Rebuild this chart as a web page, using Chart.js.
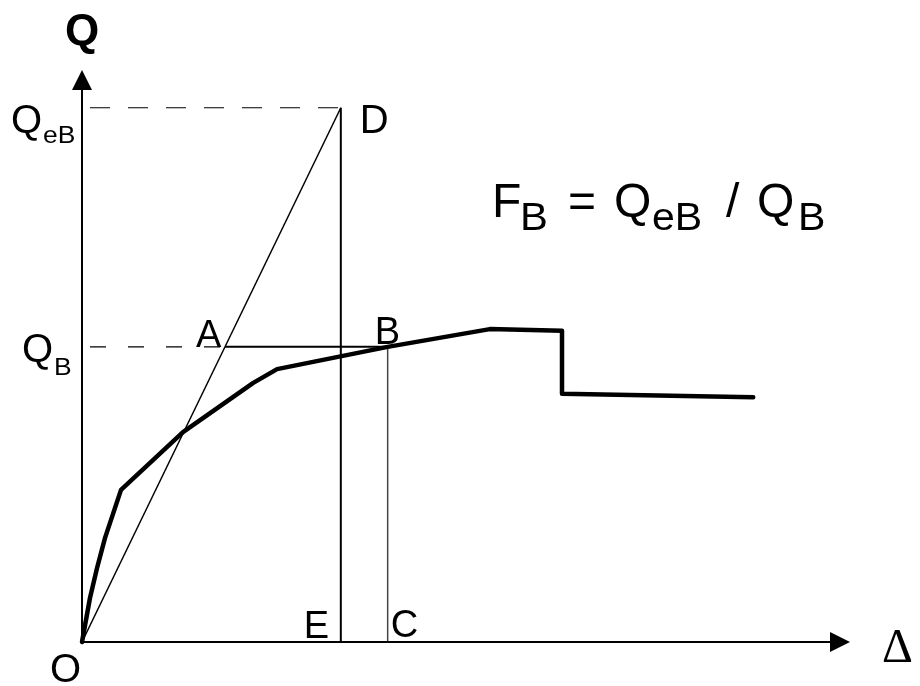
<!DOCTYPE html>
<html>
<head>
<meta charset="utf-8">
<script src="https://cdn.jsdelivr.net/npm/chart.js@4/dist/chart.umd.min.js"></script>
<style>
  body { margin: 0; background: #fff; }
  #wrap { width: 920px; height: 686px; }
</style>
</head>
<body>
<div id="wrap"><canvas id="myChart"></canvas></div>
<script>
// load-deflection curve (Delta, Q)
const curveDelta = [0, 1.04, 1.95, 3.0, 5.08, 13.15, 22.3, 25.4, 39.8, 53.1, 62.5, 62.5, 87.4];
const curveQ = [0, 7.69, 12.9, 18.2, 26.6, 36.7, 45.3, 47.7, 51.6, 54.7, 54.4, 43.4, 42.8];

// construction points
const qEB = 93.4;   // Q_eB, level of D
const qB = 51.6;    // Q_B, level of A and B
const deltaE = 33.7; // D / E
const deltaC = 39.8; // B / C
const deltaA = deltaE * qB / qEB;
const axisMax = [100, 100]; // Delta, Q

const font = '"Liberation Sans", Arial, sans-serif';

const pts = (xs, ys) => xs.map((x, i) => ({ x: x, y: ys[i] }));

const labelsPlugin = {
  id: "labels",
  afterDraw(chart) {
    const c = chart.ctx;
    const xs = chart.scales.x, ys = chart.scales.y;
    const x0 = xs.getPixelForValue(0), y0 = ys.getPixelForValue(0);
    const xe = xs.getPixelForValue(axisMax[0]), ye = ys.getPixelForValue(axisMax[1]);
    c.save();
    c.strokeStyle = "#000";
    c.fillStyle = "#000";
    c.lineWidth = 2;
    c.beginPath();
    c.moveTo(x0, y0); c.lineTo(xe - 5, y0);
    c.moveTo(x0, y0); c.lineTo(x0, ye + 5);
    c.stroke();
    // arrow heads
    c.beginPath();
    c.moveTo(xe, y0); c.lineTo(xe - 20, y0 - 10); c.lineTo(xe - 20, y0 + 10); c.closePath();
    c.fill();
    c.beginPath();
    c.moveTo(x0, ye); c.lineTo(x0 - 10, ye + 20); c.lineTo(x0 + 10, ye + 20); c.closePath();
    c.fill();

    const txt = (s, x, y, f, sx) => {
      c.save();
      c.font = f;
      c.translate(x, y);
      c.scale(sx || 1, 1);
      c.fillText(s, 0, 0);
      c.restore();
    };
    c.textBaseline = "alphabetic";
    c.textAlign = "center";
    txt("Q", x0, 45, "bold 44px " + font);
    c.textAlign = "left";
    const big = "40px " + font, sub = "23px " + font;
    const yD = ys.getPixelForValue(qEB), yB = ys.getPixelForValue(qB);
    txt("Q", 11, yD + 25, big);
    txt("eB", 43, yD + 35, sub, 1.15);
    txt("Q", 22, yB + 15, big);
    txt("B", 54, yB + 28, sub, 1.15);
    txt("D", xs.getPixelForValue(deltaE) + 19, yD + 25, big);
    txt("A", xs.getPixelForValue(deltaA) - 29, yB, "38px " + font);
    txt("B", xs.getPixelForValue(deltaC) - 13, yB - 3, "38px " + font);
    txt("E", xs.getPixelForValue(deltaE) - 37, y0 - 4, "38px " + font);
    txt("C", xs.getPixelForValue(deltaC) + 3, y0 - 5, "38px " + font);
    txt("O", x0 - 32, y0 + 40, "40px " + font);
    txt("\u0394", xe + 32, y0 + 20, "48px \"Liberation Serif\", serif");

    // formula
    const m = "48px " + font, s = "38px " + font;
    txt("F", 492, 217, m);
    txt("B", 520, 230, s, 1.1);
    txt("=", 568, 217, m);
    txt("Q", 614, 217, m);
    txt("eB", 652, 230, s, 1.08);
    txt("/", 726, 217, m);
    txt("Q", 757, 217, m);
    txt("B", 798, 230, s, 1.08);
    c.restore();
  },
};

const line = (data, opts) => Object.assign({
  data: data,
  showLine: true,
  borderColor: "#000",
  borderWidth: 2,
  pointRadius: 0,
  clip: false,
}, opts);

new Chart(document.getElementById("myChart"), {
  type: "scatter",
  data: {
    datasets: [
      line(pts(curveDelta, curveQ), { borderWidth: 4.5, borderJoinStyle: "round", borderCapStyle: "round" }),
      line(pts([0, deltaE], [0, qEB]), { borderWidth: 1.5 }),
      line(pts([deltaE, deltaE], [qEB, 0]), { borderWidth: 2 }),
      line(pts([deltaC, deltaC], [qB, 0]), { borderWidth: 1.5, borderColor: "#444" }),
      line(pts([deltaA, deltaC], [qB, qB]), { borderWidth: 2 }),
      line(pts([0, deltaE], [qEB, qEB]), { borderWidth: 1.2, borderDash: [20, 18], borderDashOffset: 30 }),
      line(pts([0, deltaA], [qB, qB]), { borderWidth: 1.2, borderDash: [16, 22], borderDashOffset: 30 }),
    ],
  },
  options: {
    responsive: true,
    maintainAspectRatio: false,
    animation: false,
    layout: { padding: { left: 82, right: 70, top: 70, bottom: 44 } },
    scales: {
      x: { type: "linear", min: 0, max: axisMax[0], display: false },
      y: { type: "linear", min: 0, max: axisMax[1], display: false },
    },
    plugins: {
      legend: { display: false },
      tooltip: { enabled: false },
    },
  },
  plugins: [labelsPlugin],
});
</script>
</body>
</html>
